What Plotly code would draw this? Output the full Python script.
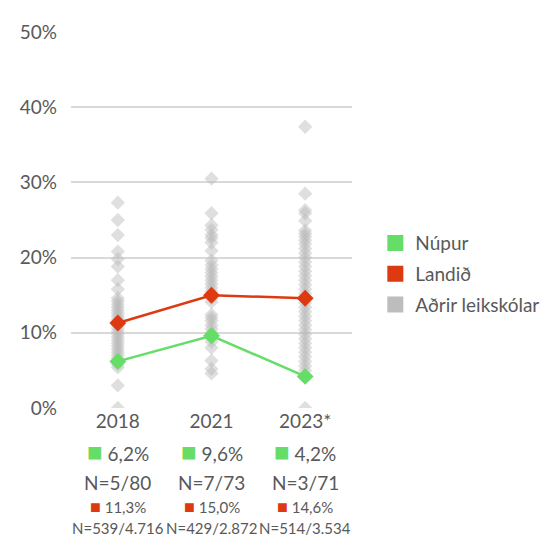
import plotly.graph_objects as go

categories = ["2018", "2021", "2023*"]
nupur = [6.2, 9.6, 4.2]
landid = [11.3, 15.0, 14.6]
nupur_n = ["N=5/80", "N=7/73", "N=3/71"]
landid_n = ["N=539/4.716", "N=429/2.872", "N=514/3.534"]

adrir_2018 = [27.3, 25.0, 23.0, 20.8, 19.8, 18.8, 17.0, 15.8, 14.6, 14.2, 13.8, 13.4, 13.0,
              12.6, 12.2, 11.8, 11.4, 11.0, 10.6, 10.2, 9.8, 9.4, 9.0, 8.6, 8.2, 7.8, 7.4,
              7.0, 6.6, 6.2, 5.8, 5.4, 3.0, 0.0]
adrir_2021 = [30.5, 25.9, 24.3, 23.7, 23.0, 22.6, 22.0, 20.9, 19.6, 19.0, 18.5, 18.0, 17.5,
              17.0, 16.5, 16.0, 15.5, 14.6, 14.1, 12.4, 12.0, 11.6, 11.0, 10.5, 10.0, 9.3,
              8.8, 8.0, 6.3, 5.2, 4.6]
adrir_2023 = [37.4, 28.5, 26.3, 25.9, 24.9, 23.6, 23.2, 22.8, 22.3, 21.8, 21.2, 20.6, 20.0,
              19.4, 18.8, 18.2, 17.6, 17.0, 16.4, 15.8, 15.2, 14.0, 13.4, 12.8, 12.2, 11.6,
              11.0, 10.4, 9.8, 9.2, 8.6, 8.0, 7.4, 6.8, 6.2, 5.6, 5.0, 0.0]
adrir = [adrir_2018, adrir_2021, adrir_2023]

y_ticks = [0, 10, 20, 30, 40, 50]
y_tick_labels = ["0%", "10%", "20%", "30%", "40%", "50%"]

GREEN = "#66dd66"
RED = "#dd3a12"
GREY = "rgba(185,185,185,0.45)"
TXT = "#595959"
FONT = "Lato"

fig = go.Figure()

for cat, vals in zip(categories, adrir):
    fig.add_trace(go.Scatter(
        x=[cat] * len(vals), y=vals, mode="markers",
        marker=dict(symbol="diamond", size=11, color=GREY, line=dict(width=0)),
        showlegend=False, hoverinfo="y"))

fig.add_trace(go.Scatter(x=categories, y=landid, mode="lines+markers",
                         line=dict(color=RED, width=2.5),
                         marker=dict(symbol="diamond", size=13, color=RED),
                         showlegend=False))
fig.add_trace(go.Scatter(x=categories, y=nupur, mode="lines+markers",
                         line=dict(color=GREEN, width=2.5),
                         marker=dict(symbol="diamond", size=13, color=GREEN),
                         showlegend=False))

for name, col in [("Núpur", GREEN), ("Landið", RED), ("Aðrir leikskólar", "#bdbdbd")]:
    fig.add_trace(go.Scatter(x=[None], y=[None], mode="markers", name=name,
                             legendgroup=name,
                             marker=dict(symbol="square", size=16, color=col)))

annotations = []
rows = [(-0.115, 19, 26), (-0.198, 19, None), (-0.260, 15, 18), (-0.319, 15, None)]
for i, cat in enumerate(categories):
    texts = [
        (GREEN, f"{nupur[i]:.1f}%".replace(".", ",")),
        (None, nupur_n[i]),
        (RED, f"{landid[i]:.1f}%".replace(".", ",")),
        (None, landid_n[i]),
    ]
    for (yy, fs, sq), (col, t) in zip(rows, texts):
        if col:
            t = f"<span style='color:{col};font-size:{sq}px'>■</span> {t}"
        annotations.append(dict(x=i, xref="x", y=yy, yref="paper", text=t,
                                showarrow=False, yanchor="middle", xanchor="center",
                                font=dict(size=fs, color=TXT, family=FONT)))

fig.update_layout(
    width=552, height=528,
    margin=dict(l=54, r=208, t=18, b=128),
    plot_bgcolor="white", paper_bgcolor="white",
    font=dict(family=FONT, color=TXT, size=19),
    xaxis=dict(type="category", range=[-0.5, 2.5], showgrid=False, showline=False,
               zeroline=False, ticks="", tickfont=dict(size=19, color=TXT),
               fixedrange=True),
    yaxis=dict(range=[0, 50], tickvals=y_ticks, ticktext=y_tick_labels, showgrid=True,
               gridcolor="#d9d9d9", gridwidth=2, zeroline=False, showline=False,
               ticks="", tickfont=dict(size=19, color=TXT), ticklabelstandoff=13),
    legend=dict(x=1.083, y=0.356, xanchor="left", yanchor="middle",
                font=dict(size=19, color=TXT, family=FONT), tracegroupgap=3,
                itemsizing="trace"),
    annotations=annotations,
    showlegend=True,
)

fig.write_html("out.html")
